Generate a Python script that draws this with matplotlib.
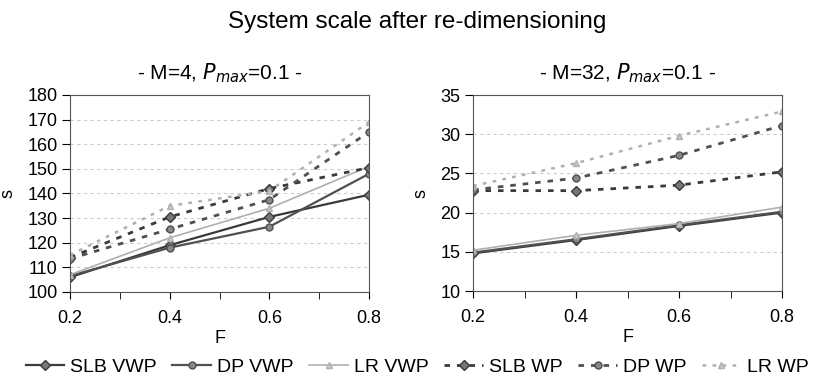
import numpy as np
import matplotlib.pyplot as plt

plt.rcParams["font.family"] = ["Liberation Sans", "DejaVu Sans"]

F = [0.2, 0.4, 0.6, 0.8]

# M=4
m4_slb_vwp = [106, 119, 130.5, 139.5]
m4_dp_vwp = [106.5, 118, 126.5, 148]
m4_lr_vwp = [107, 122, 134, 151]
m4_slb_wp = [114, 130.5, 142, 150.5]
m4_dp_wp = [113.5, 125.5, 137.5, 165]
m4_lr_wp = [115, 135, 141, 169]

# M=32
m32_slb_vwp = [14.8, 16.5, 18.3, 20.0]
m32_dp_vwp = [14.9, 16.6, 18.4, 20.1]
m32_lr_vwp = [15.2, 17.1, 18.6, 20.7]
m32_slb_wp = [22.8, 22.8, 23.5, 25.2]
m32_dp_wp = [22.9, 24.4, 27.3, 31.1]
m32_lr_wp = [23.4, 26.3, 29.8, 32.9]

labels = ["SLB VWP", "DP VWP", "LR VWP", "SLB WP", "DP WP", "LR WP"]
styles = [
    dict(color="#3a3a3a", ls="-", marker="D", mfc="#777777", lw=1.6, ms=5),
    dict(color="#505050", ls="-", marker="o", mfc="#888888", lw=1.6, ms=5),
    dict(color="#b0b0b0", ls="-", marker="^", mfc="#c8c8c8", lw=1.2, ms=5),
    dict(color="#3a3a3a", ls=(0, (2, 2.5)), marker="D", mfc="#777777", lw=2.0, ms=5),
    dict(color="#505050", ls=(0, (2, 2.5)), marker="o", mfc="#888888", lw=2.0, ms=5),
    dict(color="#b0b0b0", ls=(0, (1.5, 2.5)), marker="^", mfc="#c8c8c8", lw=1.8, ms=5),
]

fig = plt.figure(figsize=(8.34, 3.83), dpi=100)
fig.text(0.5, 1 - 22 / 383, "System scale after re-dimensioning", ha="center",
         va="center", fontsize=17.5)

ax1 = fig.add_axes([70 / 834, 1 - 292 / 383, 299 / 834, 197 / 383])
ax2 = fig.add_axes([473 / 834, 1 - 291 / 383, 309 / 834, 196 / 383])

panels = [
    (ax1, [m4_slb_vwp, m4_dp_vwp, m4_lr_vwp, m4_slb_wp, m4_dp_wp, m4_lr_wp],
     "- M=4, $P_{max}$=0.1 -", (100, 180), 10),
    (ax2, [m32_slb_vwp, m32_dp_vwp, m32_lr_vwp, m32_slb_wp, m32_dp_wp, m32_lr_wp],
     "- M=32, $P_{max}$=0.1 -", (10, 35), 5),
]

handles = []
for ax, series, title, ylim, step in panels:
    for i, (vals, st) in enumerate(zip(series, styles)):
        (h,) = ax.plot(F, vals, mec=st["color"], label=labels[i], **st)
        if ax is ax1:
            handles.append(h)
    ax.set_xlim(0.2, 0.8)
    ax.set_ylim(*ylim)
    ax.set_yticks(np.arange(ylim[0], ylim[1] + 0.1, step))
    ax.set_xticks([0.2, 0.4, 0.6, 0.8])
    ax.set_xticks([0.3, 0.5, 0.7], minor=True)
    ax.tick_params(axis="x", which="both", direction="out", length=5, pad=8,
                   labelsize=13)
    ax.tick_params(axis="y", length=6, pad=3, labelsize=13)
    ax.grid(axis="y", color="#cccccc", ls=(0, (3, 3)), lw=0.8)
    ax.set_axisbelow(True)
    ax.set_title(title, fontsize=15, pad=11)
    ax.set_xlabel("F", fontsize=13, labelpad=2)
    ax.set_ylabel("s", fontsize=13, labelpad=8)
    for sp in ax.spines.values():
        sp.set_color("#555555")

fig.legend(handles=handles, loc="center", ncol=6, bbox_to_anchor=(0.5, 1 - 367 / 383),
           frameon=False, fontsize=14, handlelength=2.0, columnspacing=0.8,
           handletextpad=0.3, borderaxespad=0)

fig.savefig("out.png", dpi=100)
